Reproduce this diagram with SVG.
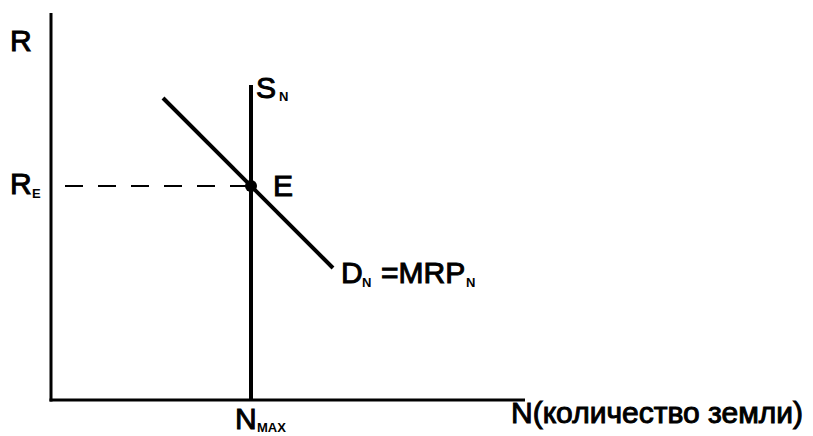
<svg xmlns="http://www.w3.org/2000/svg" width="813" height="436" viewBox="0 0 813 436">
<style>
.ax{stroke:#000;stroke-width:3;fill:none}
.cv{stroke:#000;stroke-width:4;fill:none}
.ds{stroke:#000;stroke-width:2;fill:none;stroke-dasharray:18 15}
text{font-family:"Liberation Sans",Arial,sans-serif;fill:#000}
.t{font-size:30px;stroke:#000;stroke-width:1}
.s{font-size:13px;font-weight:bold}
</style>
<rect width="813" height="436" fill="#fff"/>
<g id="connectors">
<line id="y-axis" class="ax" x1="51" y1="13" x2="51" y2="401.5"/>
<line id="x-axis" class="ax" x1="49.5" y1="400" x2="525" y2="400"/>
<line id="re-dash" class="ds" x1="51" y1="186" x2="248" y2="186" stroke-dashoffset="19"/>
<line id="sn" class="cv" x1="251" y1="85" x2="251" y2="400"/>
<line id="dn" class="cv" x1="163" y1="98" x2="333" y2="268"/>
</g>
<g id="node-E">
<circle cx="251" cy="186" r="6" fill="#000"/>
<text class="t" x="273" y="196">E</text>
</g>
<g id="label-R"><text class="t" x="10" y="51">R</text></g>
<g id="label-RE"><text class="t" x="10" y="194">R</text><text class="s" x="32" y="198">E</text></g>
<g id="label-SN"><text class="t" x="256" y="98">S</text><text class="s" x="279" y="101">N</text></g>
<g id="label-DN"><text class="t" x="341" y="283">D</text><text class="s" x="362" y="287">N</text><text class="t" x="381" y="283">=MRP</text><text class="s" x="466" y="287">N</text></g>
<g id="label-NMAX"><text class="t" x="235" y="429">N</text><text class="s" x="257" y="432">MAX</text></g>
<g id="label-x"><text class="t" x="511" y="423">N(количество земли)</text></g>
</svg>
